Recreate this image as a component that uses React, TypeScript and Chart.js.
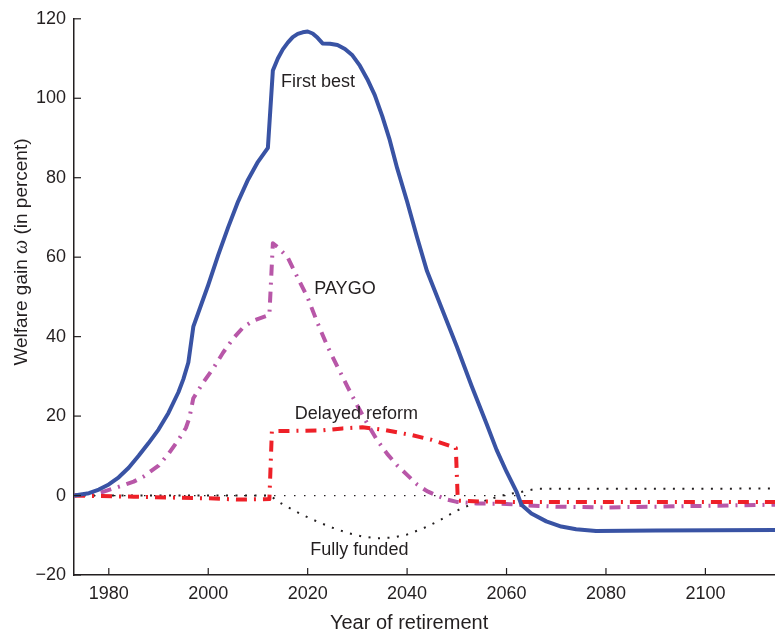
import React, { useEffect, useRef } from "react";
import { Chart, registerables } from "chart.js";
Chart.register(...registerables);

const xTicks = [1980, 2000, 2020, 2040, 2060, 2080, 2100];
const yTicks = [-20, 0, 20, 40, 60, 80, 100, 120];

const firstBestYears = [1973, 1976, 1978, 1980, 1982, 1984, 1986, 1988, 1990, 1992, 1994, 1995, 1996, 1997, 1998, 2000, 2002, 2004, 2006, 2008, 2010, 2012, 2013, 2014, 2015, 2016, 2017, 2018, 2019, 2020, 2021, 2022, 2023, 2024.5, 2026, 2027.5, 2029, 2030.5, 2032, 2033.5, 2035, 2036.5, 2038, 2040, 2042, 2044, 2047, 2050, 2053, 2056, 2058, 2060, 2062, 2063, 2065, 2068, 2071, 2074, 2078, 2090, 2114];
const firstBestValues = [0, 0.6, 1.5, 2.8, 4.6, 7, 10, 13.2, 16.6, 20.8, 26, 29.3, 33.5, 42.5, 46, 53, 60.5, 67.5, 74, 79.5, 84, 87.5, 107, 110, 112.3, 114, 115.4, 116.2, 116.6, 116.8, 116.3, 115.2, 113.8, 113.7, 113.4, 112.4, 110.8, 108.2, 104.8, 100.8, 95.5, 89.5, 82.4, 74, 65, 56.5, 47, 37.5, 27.5, 18, 11.5, 6, 1, -2.3, -4.5, -6.5, -7.8, -8.5, -8.9, -8.8, -8.7];

const paygoYears = [1973, 1976, 1978, 1981, 1983, 1985, 1987, 1990, 1992, 1994, 1995.5, 1996.2, 1997, 1999, 2001, 2003, 2005, 2007, 2009, 2012.3, 2013, 2014, 2016, 2018, 2020, 2022, 2024, 2026, 2028, 2030, 2032, 2034, 2036, 2038, 2040, 2042, 2044, 2046, 2048, 2050, 2054, 2060, 2063, 2070, 2080, 2095, 2114];
const paygoValues = [0, 0.2, 0.6, 1.8, 2.6, 3.5, 4.8, 7.5, 10.5, 14, 17, 19.5, 24.5, 28.5, 32, 36, 39.5, 42.3, 44, 45.5, 63.5, 62.5, 59.9, 54.8, 49.8, 43.4, 37.5, 32.4, 27.4, 22.6, 18.1, 13.9, 10.5, 7.6, 5.2, 2.8, 1.1, 0, -1.0, -1.6, -2, -2.1, -2.4, -2.8, -3, -2.7, -2.3];

const delayedYears = [1973, 1985, 1992, 2000, 2006, 2012.3, 2012.8, 2018, 2023, 2027, 2031, 2035, 2041, 2045, 2049.8, 2050.2, 2055, 2060, 2114];
const delayedValues = [0, -0.3, -0.5, -0.7, -1.0, -0.9, 16.2, 16.3, 16.4, 16.9, 17.2, 16.6, 15.2, 14, 12, -1.3, -1.5, -1.6, -1.6];

const fundedYears = [1973, 2012.5, 2014, 2016, 2019, 2022, 2025, 2028, 2031, 2034, 2037, 2040, 2043, 2046, 2048, 2050, 2052, 2054, 2056, 2058, 2060, 2062, 2064, 2066, 2114];
const fundedValues = [0, 0, -1.5, -2.9, -4.9, -6.6, -8.1, -9.4, -10.3, -10.75, -10.6, -9.8, -8.4, -6.6, -5.2, -3.8, -2.7, -1.9, -1.2, -0.4, 0.3, 0.65, 1.2, 1.7, 1.75];

const zeroYears = [1973, 2065];
const zeroValues = [0, 0];

const labelTexts = ["First best", "PAYGO", "Delayed reform", "Fully funded"];
const labelYears = [2022.1, 2027.5, 2029.8, 2030.4];
const labelValues = [104.2, 52.0, 20.6, -13.8];

const yTitleParts = ["Welfare gain ", "\u03c9", " (in percent)"];
const xTitle = "Year of retirement";

const TEXT = "#231f20";
const SANS = '"Liberation Sans", Arial, Helvetica, sans-serif';

const pts = (xs: number[], ys: number[]) => xs.map((x, i) => ({ x, y: ys[i] }));

const overlay = {
  id: "overlay",
  afterDraw(chart: any) {
    const { ctx, chartArea, scales } = chart;
    const x = scales.x;
    const y = scales.y;
    ctx.save();
    ctx.strokeStyle = TEXT;
    ctx.lineWidth = 1.2;
    yTicks.forEach((v) => {
      const py = y.getPixelForValue(v);
      ctx.beginPath();
      ctx.moveTo(chartArea.left, py);
      ctx.lineTo(chartArea.left + 7, py);
      ctx.stroke();
    });
    xTicks.forEach((v) => {
      const px = x.getPixelForValue(v);
      ctx.beginPath();
      ctx.moveTo(px, chartArea.bottom);
      ctx.lineTo(px, chartArea.bottom - 7);
      ctx.stroke();
    });
    ctx.fillStyle = TEXT;
    ctx.font = "18px " + SANS;
    ctx.textAlign = "center";
    ctx.textBaseline = "middle";
    labelTexts.forEach((t, i) => {
      ctx.fillText(t, x.getPixelForValue(labelYears[i]), y.getPixelForValue(labelValues[i]));
    });
    // x title
    ctx.font = "20px " + SANS;
    ctx.textBaseline = "alphabetic";
    ctx.fillText(xTitle, x.getPixelForValue(2040.4), 629);
    // y title with italic omega
    const fonts = ["19px " + SANS, "italic 20px \"Liberation Serif\", serif", "19px " + SANS];
    const widths = yTitleParts.map((p, i) => {
      ctx.font = fonts[i];
      return ctx.measureText(p).width;
    });
    const total = widths.reduce((a, b) => a + b, 0);
    ctx.translate(27, y.getPixelForValue(61.3));
    ctx.rotate(-Math.PI / 2);
    ctx.textAlign = "left";
    let cx = -total / 2;
    yTitleParts.forEach((p, i) => {
      ctx.font = fonts[i];
      ctx.fillText(p, cx, 0);
      cx += widths[i];
    });
    ctx.restore();
  },
};

export default function App() {
  const ref = useRef<HTMLCanvasElement>(null);
  useEffect(() => {
    if (!ref.current) return;
    const line = (data: any, color: string, width: number, dash: number[]) => ({
      data,
      borderColor: color,
      borderWidth: width,
      borderDash: dash,
      showLine: true,
      pointRadius: 0,
      tension: 0,
      borderJoinStyle: "round",
      borderCapStyle: "butt",
      fill: false,
    });
    const chart = new Chart(ref.current, {
      type: "scatter",
      data: {
        datasets: [
          line(pts(firstBestYears, firstBestValues), "#3953a4", 4, []),
          line(pts(delayedYears, delayedValues), "#ee2028", 4, [11, 7, 2, 7]),
          line(pts(paygoYears, paygoValues), "#b857a8", 4, [11, 7, 2, 7]),
          line(pts(fundedYears, fundedValues), "#231f20", 2, [2, 7.5]),
          line(pts(zeroYears, zeroValues), "#231f20", 1.3, [1.5, 8.5]),
        ] as any,
      },
      options: {
        responsive: false,
        devicePixelRatio: 1,
        animation: false,
        events: [],
        layout: { padding: { top: 17, left: 0, right: 0, bottom: 0 } },
        plugins: { legend: { display: false }, tooltip: { enabled: false } },
        scales: {
          x: {
            type: "linear",
            min: 1973,
            max: 2114,
            border: { display: true, color: TEXT, width: 1.5 },
            grid: { display: true, drawOnChartArea: false, drawTicks: false },
            afterBuildTicks: (s: any) => {
              s.ticks = xTicks.map((v) => ({ value: v }));
            },
            afterFit: (s: any) => {
              s.height = 58;
            },
            ticks: {
              font: { family: SANS, size: 18 },
              color: TEXT,
              padding: 8,
              maxRotation: 0,
              autoSkip: false,
              callback: (v: any) => String(v),
            },
          },
          y: {
            type: "linear",
            min: -20,
            max: 120,
            border: { display: true, color: TEXT, width: 1.5 },
            grid: { display: true, drawOnChartArea: false, drawTicks: false },
            afterBuildTicks: (s: any) => {
              s.ticks = yTicks.map((v) => ({ value: v }));
            },
            afterFit: (s: any) => {
              s.width = 74;
            },
            ticks: {
              font: { family: SANS, size: 18 },
              color: TEXT,
              padding: 8,
              autoSkip: false,
              callback: (v: any) => (v < 0 ? "\u2212" + Math.abs(v) : String(v)),
            },
          },
        },
      } as any,
      plugins: [overlay],
    });
    return () => chart.destroy();
  }, []);
  return (
    <div style={{ position: "absolute", left: 0, top: 0, width: 775, height: 633, background: "#fff" }}>
      <canvas ref={ref} width={775} height={633} style={{ display: "block", width: 775, height: 633 }} />
    </div>
  );
}
